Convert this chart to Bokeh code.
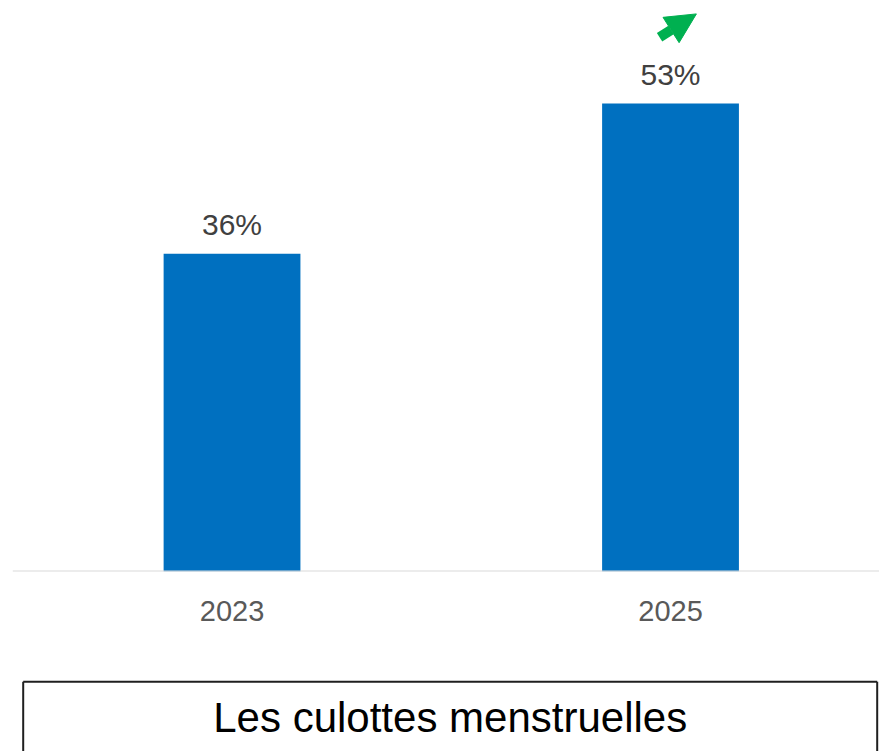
from bokeh.plotting import figure
from bokeh.layouts import column
from bokeh.models import Range1d, FixedTicker, ColumnDataSource, Arrow, NormalHead
from bokeh.core.properties import value
from bokeh.embed import file_html
from bokeh.resources import INLINE

# Data
years = ["2023", "2025"]
shares = [36, 53]
labels = ["36%", "53%"]
caption = "Les culottes menstruelles"

FONT = "Liberation Sans"
BAR_COLOR = "#0070C0"

xs = list(range(len(years)))
src = ColumnDataSource(dict(x=xs, top=shares, label=labels))

# Main bar chart
p = figure(width=879, height=660, output_backend="svg", toolbar_location=None,
           x_range=Range1d(-0.528, 1.4766), y_range=Range1d(0, 64.67),
           min_border_left=0, min_border_right=0, min_border_top=0, min_border_bottom=89)
p.outline_line_color = None
p.xgrid.visible = False
p.ygrid.visible = False
p.yaxis.visible = False
p.background_fill_color = "white"
p.border_fill_color = "white"

p.vbar(x="x", top="top", width=0.312, bottom=0, source=src,
       fill_color=BAR_COLOR, line_color=None)

# Baseline under the bars
p.segment(x0=[-0.5], y0=[0], x1=[1.6], y1=[0], line_color="#D9D9D9", line_width=2)

# Value labels above bars
p.text(x="x", y="top", text="label", source=src, text_align="center",
       text_baseline="bottom", y_offset=-13, text_font=value(FONT),
       text_font_size="30px", text_color="#404040")

# Category axis
ax = p.xaxis[0]
ax.ticker = FixedTicker(ticks=xs)
ax.major_label_overrides = {i: y for i, y in enumerate(years)}
ax.axis_line_color = None
ax.major_tick_line_color = None
ax.minor_tick_line_color = None
ax.major_label_text_font = FONT
ax.major_label_text_font_size = "29px"
ax.major_label_text_color = "#595959"
ax.major_label_standoff = 23

# Upward trend arrow over the latest bar
green = "#00B050"
p.add_layout(Arrow(x_start=1 - 0.025, y_start=shares[1] + 7.5,
                   x_end=1 + 0.059, y_end=shares[1] + 10.15,
                   line_color=green, line_width=10,
                   end=NormalHead(size=30, fill_color=green, line_color=green)))

# Caption box
c = figure(width=879, height=91, output_backend="svg", toolbar_location=None,
           x_range=Range1d(0, 879), y_range=Range1d(0, 91),
           min_border=0)
c.outline_line_color = None
c.axis.visible = False
c.grid.visible = False
c.segment(x0=[22.7, 22.7, 876.7], y0=[69.7, 69.7, 69.7],
          x1=[876.7, 22.7, 876.7], y1=[69.7, -10, -10],
          line_color="#1F1F1F", line_width=2)
c.text(x=[449.7], y=[34], text=[caption], text_align="center",
       text_baseline="middle", text_font=value(FONT),
       text_font_size="42px", text_color="black")

layout = column(p, c, spacing=0)
open("out.html", "w").write(file_html(layout, INLINE))
